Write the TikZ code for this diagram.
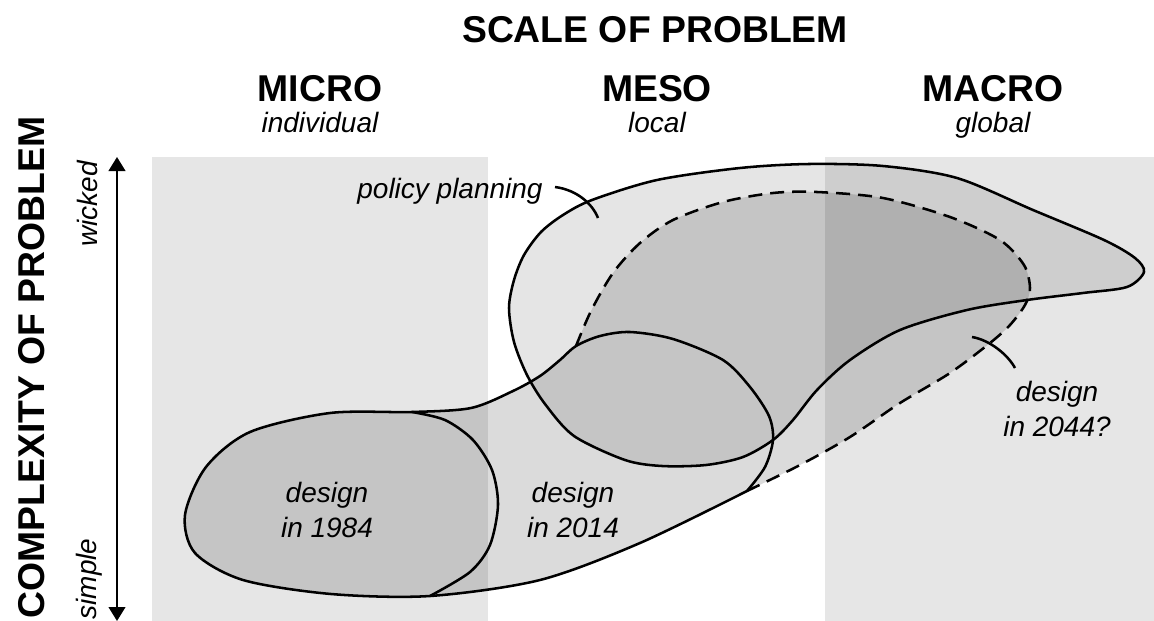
\documentclass[tikz,border=0pt]{standalone}
\usepackage{fontspec}
\setmainfont{Liberation Sans}
\usetikzlibrary{arrows.meta}
\definecolor{colbg}{HTML}{E6E6E6}
\begin{document}
\begin{tikzpicture}[x=0.75pt,y=-0.75pt,
  outline/.style={line width=1.9pt,line join=round},
  dashedline/.style={line width=1.9pt,dash pattern=on 10.5pt off 6pt},
  layer/.style={fill=black,fill opacity=#1},
  head/.style={font=\fontsize{28}{30}\selectfont\bfseries,anchor=base,inner sep=0pt},
  sub/.style={font=\fontsize{21}{26}\selectfont\itshape,anchor=base,inner sep=0pt},
  lab/.style={font=\fontsize{21}{26.25}\selectfont\itshape,align=center,inner sep=0pt},
  leader/.style={line width=1.9pt},
  axis/.style={line width=1.6pt,{Triangle[width=12.5pt,length=10.5pt]}-{Triangle[width=12.5pt,length=10.5pt]}}]
\useasboundingbox (0,0) rectangle (1154,621);
% columns
\fill[colbg] (152,157) rectangle (488,621);
\fill[colbg] (825,157) rectangle (1154,621);
% policy planning
\filldraw[outline,layer=0.1] plot[smooth cycle] coordinates {
 (809,164) (883,166) (957,178) (1033,210) (1104,240) (1135,258) (1144,272)
 (1127,287) (1083,293) (1027,300) (967,310) (900,330) (850,360) (817,390)
 (793,420) (773,440) (743,457) (706,465) (662,466) (625,460) (574,436)
 (545,404) (527,375) (514,342) (509,308) (514,280) (524,255) (541,232)
 (563,215) (592,200) (657,180) (740,168)};
% design 2044 region fill
\fill[layer=0.14] plot[smooth] coordinates {
 (576,346) (560,360) (540,376) (513,391) (471,408) (412,412) (330,413)
 (250,432) (206,467) (185,515) (195,553) (243,580) (331,594) (430,596)
 (540,580) (640,543) (747,491)}
 -- plot[smooth] coordinates {
 (747,491) (800,465) (850,437) (900,403) (950,373) (990,343) (1010,325)
 (1025,305) (1030,288) (1024,265) (1000,240) (950,217) (883,198) (817,192)
 (773,193) (723,202) (673,220) (640,243) (613,273) (591,311) (576,346)} -- cycle;
% design 2014 outline
\draw[outline] plot[smooth] coordinates {
 (747,491) (765,467) (773,440) (769,416) (750,387) (723,360) (673,339)
 (630,332) (600,336) (576,346) (560,360) (540,376) (513,391) (471,408)
 (412,412) (330,413) (250,432) (206,467) (185,515) (195,553) (243,580)
 (331,594) (430,596) (540,580) (640,543) (747,491)};
% design 1984 right side
\draw[outline] plot[smooth] coordinates {
 (412,412) (445,420) (473,440) (492,470) (498,505) (490,545) (470,572) (430,596)};
% design 2044 dashed boundary
\draw[dashedline] plot[smooth] coordinates {
 (576,346) (591,311) (613,273) (640,243) (673,220) (723,202) (773,193)
 (817,192) (883,198) (950,217) (1000,240) (1024,265) (1030,288) (1025,305)
 (1010,325) (990,343) (950,373) (900,403) (850,437) (800,465) (747,491)};
% headings
\node[head] (title) at (655,42) {SCALE OF PROBLEM};
\node[head] (micro) at (320,101) {MICRO};
\node[sub] (indiv) at (320,132) {individual};
\node[head] (meso) at (657,101) {MESO};
\node[sub] (local) at (657,132) {local};
\node[head] (macro) at (993,101) {MACRO};
\node[sub] (global) at (993,132) {global};
\node[head,rotate=90] (ytitle) at (44,367.5) {COMPLEXITY OF PROBLEM};
\node[sub,rotate=90] (wicked) at (97,204) {wicked};
\node[sub,rotate=90] (simple) at (96,579) {simple};
% axis arrow
\coordinate (atop) at (117,157);
\coordinate (abot) at (117,621);
\draw[axis] (atop) -- (abot);
% labels
\node[sub] (pp) at (450,198) {policy planning};
\node[lab] (d1984) at (327,510) {design\\in 1984};
\node[lab] (d2014) at (573,510) {design\\in 2014};
\node[lab] (d2044) at (1057,409) {design\\in 2044?};
% leaders
\coordinate (ppA) at (555,187);
\coordinate (ppB) at (598,218);
\draw[leader] (ppA) .. controls (578,190) and (593,205) .. (ppB);
\coordinate (dA) at (972,337);
\coordinate (dB) at (1015,368);
\draw[leader] (dA) .. controls (990,340) and (1008,355) .. (dB);
\end{tikzpicture}
\end{document}
